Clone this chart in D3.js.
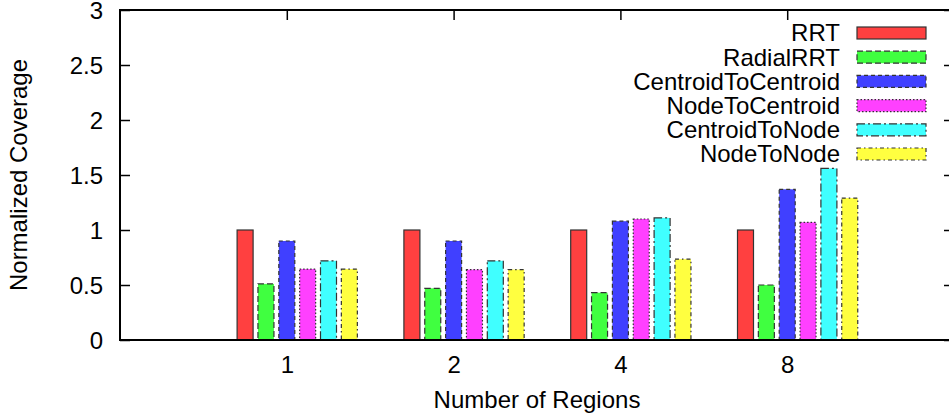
<!DOCTYPE html>
<html>
<head>
<meta charset="utf-8">
<script src="https://cdn.jsdelivr.net/npm/d3@7"></script>
<style>
  body { margin: 0; background: #fff; }
  text { font-family: "Liberation Sans", Arial, sans-serif; fill: #000; }
</style>
</head>
<body>
<div id="chart"></div>
<script>
// data
var regions = ["1", "2", "4", "8"];
var seriesNames = ["RRT", "RadialRRT", "CentroidToCentroid", "NodeToCentroid", "CentroidToNode", "NodeToNode"];
var rrt = [1.0, 1.0, 1.0, 1.0];
var radialRrt = [0.51, 0.47, 0.43, 0.50];
var centroidToCentroid = [0.90, 0.90, 1.08, 1.37];
var nodeToCentroid = [0.645, 0.64, 1.10, 1.07];
var centroidToNode = [0.72, 0.72, 1.11, 1.56];
var nodeToNode = [0.645, 0.64, 0.735, 1.29];
var yTicks = [0, 0.5, 1, 1.5, 2, 2.5, 3];

var seriesValues = [rrt, radialRrt, centroidToCentroid, nodeToCentroid, centroidToNode, nodeToNode];
var fills = ["#ff4040", "#40ff40", "#4040ff", "#ff40ff", "#40ffff", "#ffff40"];
var dashes = [null, "6,3", "4,3", "1.5,2", "8,3,2,3", "4,3,1.5,3"];

var svgWidth = 949;
var svgHeight = 416;
var margin = { top: 10, right: -5, bottom: 76, left: 120 };
var width = svgWidth - margin.left - margin.right;
var height = svgHeight - margin.top - margin.bottom;
var fontSize = "24px";

var svg = d3.select("#chart")
    .append("svg")
    .attr("width", svgWidth)
    .attr("height", svgHeight);

var chartGroup = svg.append("g")
    .attr("transform", `translate(${margin.left}, ${margin.top})`);

var xScale = d3.scaleLinear().domain([-1, 4]).range([0, width]);
var yScale = d3.scaleLinear().domain([0, 3]).range([height, 0]);

var nSlots = 8;   // 6 bars + gap of 2
var barWidth = 16;

// axes (ticks point inward, mirrored on top and right)
function styleAxis(g) {
    g.select(".domain").remove();
    g.selectAll(".tick line").attr("stroke", "#000").attr("stroke-width", 1.5);
    g.selectAll(".tick text").style("font-size", fontSize).attr("fill", "#000");
}

chartGroup.append("g")
    .attr("transform", `translate(0, ${height})`)
    .call(d3.axisBottom(xScale).tickValues([0, 1, 2, 3]).tickFormat(d => regions[d]).tickSize(-10).tickPadding(16))
    .call(styleAxis);

chartGroup.append("g")
    .call(d3.axisTop(xScale).tickValues([0, 1, 2, 3]).tickFormat("").tickSize(-10))
    .call(styleAxis);

chartGroup.append("g")
    .call(d3.axisLeft(yScale).tickValues(yTicks).tickFormat(d3.format("")).tickSize(-10).tickPadding(17))
    .call(styleAxis)
    .selectAll(".tick text").attr("dy", "0.36em");

chartGroup.append("g")
    .attr("transform", `translate(${width}, 0)`)
    .call(d3.axisRight(yScale).tickValues(yTicks).tickFormat("").tickSize(-10))
    .call(styleAxis);

// bars
seriesValues.forEach(function (vals, j) {
    chartGroup.selectAll(".bar" + j)
        .data(vals)
        .enter()
        .append("rect")
        .attr("x", (d, i) => xScale(i + (j - 2) / nSlots) - barWidth / 2)
        .attr("y", d => yScale(d))
        .attr("width", barWidth)
        .attr("height", d => height - yScale(d))
        .attr("fill", fills[j])
        .attr("stroke", "#333")
        .attr("stroke-width", 1.2)
        .attr("stroke-dasharray", dashes[j]);
});

// frame
chartGroup.append("rect")
    .attr("width", width)
    .attr("height", height)
    .attr("fill", "none")
    .attr("stroke", "#000")
    .attr("stroke-width", 2);

// legend
var legend = svg.append("g").attr("transform", "translate(0, 33)");
seriesNames.forEach(function (name, j) {
    var row = legend.append("g").attr("transform", `translate(0, ${j * 24.2})`);
    row.append("text")
        .attr("x", 840)
        .attr("y", 0)
        .attr("dy", "0.35em")
        .attr("text-anchor", "end")
        .style("font-size", fontSize)
        .text(name);
    row.append("rect")
        .attr("x", 857)
        .attr("y", -6)
        .attr("width", 69)
        .attr("height", 12)
        .attr("fill", fills[j])
        .attr("stroke", "#333")
        .attr("stroke-width", 1.2)
        .attr("stroke-dasharray", dashes[j]);
});

// axis labels
svg.append("text")
    .attr("transform", `translate(27, ${margin.top + height / 2}) rotate(-90)`)
    .attr("text-anchor", "middle")
    .style("font-size", fontSize)
    .text("Normalized Coverage");

svg.append("text")
    .attr("x", margin.left + width / 2)
    .attr("y", 408)
    .attr("text-anchor", "middle")
    .style("font-size", fontSize)
    .text("Number of Regions");
</script>
</body>
</html>
